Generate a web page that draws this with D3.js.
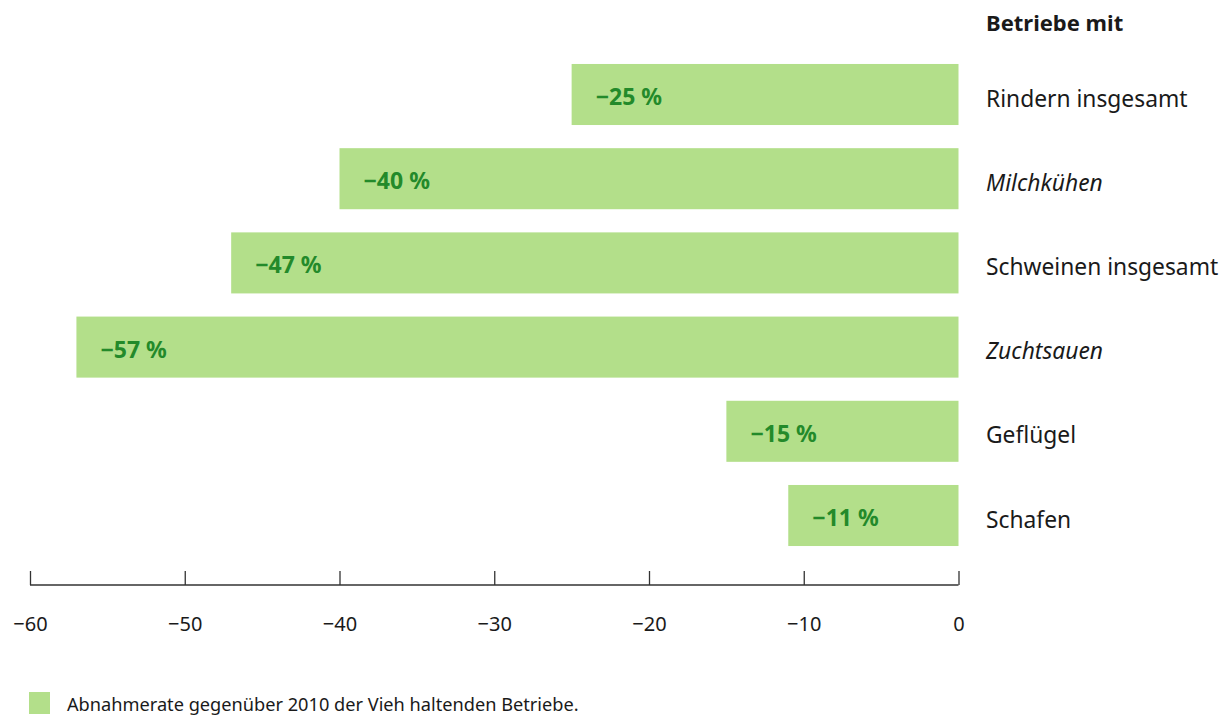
<!DOCTYPE html>
<html>
<head>
<meta charset="utf-8">
<script src="https://cdn.jsdelivr.net/npm/d3@7"></script>
<style>
  body { margin: 0; background: #fff; }
  svg { display: block; font-family: "Noto Sans", "Open Sans", sans-serif; }
</style>
</head>
<body>
<svg id="chart" width="1228" height="717"></svg>
<script>
// Categories (livestock type) and change since 2010 in percent
const categories = ["Rindern insgesamt", "Milchkühen", "Schweinen insgesamt", "Zuchtsauen", "Geflügel", "Schafen"];
const italicCats = ["Milchkühen", "Zuchtsauen"];
const values = [-25, -40, -47, -57, -15, -11];
const tickValues = [-60, -50, -40, -30, -20, -10, 0];
const headerText = "Betriebe mit";
const legendText = "Abnahmerate gegenüber 2010 der Vieh haltenden Betriebe.";

const barColor = "#b3df8a";
const labelColor = "#238a2a";
const textColor = "#1a1a1a";

const svg = d3.select("#chart");

const x = d3.scaleLinear().domain([-60, 0]).range([30, 958.5]);
const y = d3.scaleBand().domain(categories).range([52.4, 557.6]).paddingInner(0.275).paddingOuter(0.1375);

// Bars
svg.append("g").selectAll("rect")
  .data(categories)
  .join("rect")
  .attr("x", (d, i) => x(values[i]))
  .attr("y", d => y(d))
  .attr("width", (d, i) => x(0) - x(values[i]))
  .attr("height", y.bandwidth())
  .attr("fill", barColor);

// Value labels inside bars
svg.append("g").selectAll("text")
  .data(categories)
  .join("text")
  .attr("x", (d, i) => x(values[i]) + 24)
  .attr("y", d => y(d) + y.bandwidth() / 2 + 10.5)
  .attr("fill", labelColor)
  .attr("font-size", 23)
  .attr("font-weight", "bold")
  .text((d, i) => "\u2212" + Math.abs(values[i]) + " %");

// Category labels to the right
svg.append("g").selectAll("text")
  .data(categories)
  .join("text")
  .attr("x", 986)
  .attr("y", d => y(d) + y.bandwidth() / 2 + 12)
  .attr("fill", textColor)
  .attr("font-size", 22.8)
  .attr("font-style", d => italicCats.includes(d) ? "italic" : "normal")
  .text(d => d);

svg.append("text")
  .attr("x", 986)
  .attr("y", 31)
  .attr("fill", textColor)
  .attr("font-size", 22)
  .attr("font-weight", "bold")
  .text(headerText);

// Axis with upward ticks
const axis = d3.axisBottom(x)
  .tickValues(tickValues)
  .tickSize(0)
  .tickFormat(d => d < 0 ? "\u2212" + Math.abs(d) : String(d));

const gAxis = svg.append("g").attr("transform", "translate(0,585)");
gAxis.call(axis);
gAxis.select(".domain").attr("stroke", "#333").attr("stroke-width", 1.3).attr("d", `M${x(-60)},0H${x(0)}`);
gAxis.selectAll(".tick line").attr("y2", -14).attr("stroke", "#333").attr("stroke-width", 1.3);
gAxis.selectAll(".tick text")
  .attr("y", 46)
  .attr("dy", 0)
  .attr("font-size", 20)
  .attr("font-family", "\"Noto Sans\", \"Open Sans\", sans-serif")
  .attr("fill", textColor);

// Legend
svg.append("rect").attr("x", 29).attr("y", 692).attr("width", 21).attr("height", 22).attr("fill", barColor);
svg.append("text")
  .attr("x", 67)
  .attr("y", 711)
  .attr("font-size", 18.2)
  .attr("fill", textColor)
  .text(legendText);
</script>
</body>
</html>
